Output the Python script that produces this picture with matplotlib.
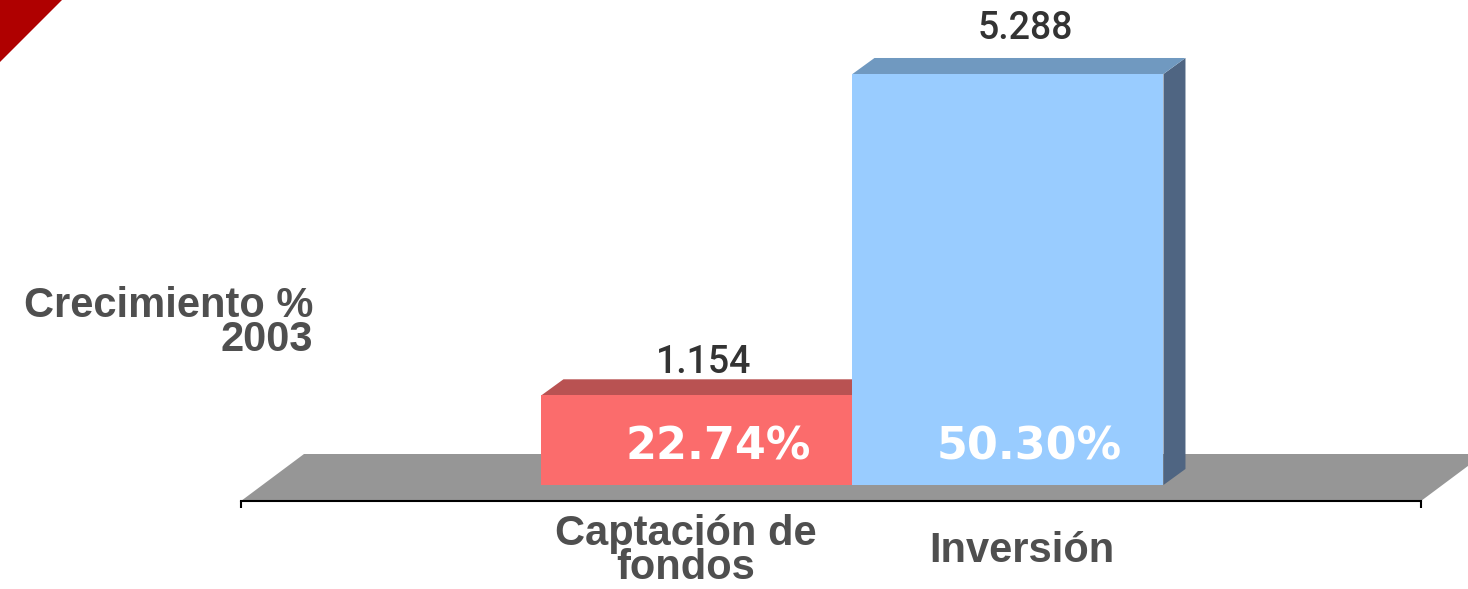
"""3D-style bar chart: Crecimiento % 2003."""

import matplotlib

matplotlib.use("Agg")
import matplotlib.pyplot as plt
from matplotlib.patches import Polygon

categories = ["Captación de\nfondos", "Inversión"]
values = [1.154, 5.288]
value_labels = ["1.154", "5.288"]
growth_labels = ["22.74%", "50.30%"]
side_title = "Crecimiento %\n2003"

W, H, DPI = 1468, 589, 100
front_colors = ["#FB6C6C", "#99CCFF"]
top_colors = ["#B95252", "#7099C0"]
side_colors = ["#8A3A3A", "#4F6582"]
floor_color = "#969696"
label_gray = "#4F4F4F"
value_gray = "#333333"
label_font = dict(fontsize=30, family="Liberation Sans", fontweight="bold",
                  color=label_gray, linespacing=0.78)

# small per-label nudges (pixels) to match the original layout
value_pad_px = [(7, 6), (17, 19)]
cat_dx_px = [-11, 14]

fig = plt.figure(figsize=(W / DPI, H / DPI), dpi=DPI)
ax = fig.add_axes([241 / W, 88 / H, 1180 / W, 501 / H])
xmin, xmax = -1.466, 2.328
ymin, ymax = -0.206, 6.24
ax.set_xlim(xmin, xmax)
ax.set_ylim(ymin, ymax)

px_x = (xmax - xmin) / 1180
px_y = (ymax - ymin) / 501

# floor
fdx, fdy = 63 * px_x, 47 * px_y
floor = Polygon(
    [(xmin, ymin), (xmax, ymin), (xmax + fdx, ymin + fdy), (xmin + fdx, ymin + fdy)],
    closed=True, facecolor=floor_color, edgecolor="none", zorder=1, clip_on=False,
)
ax.add_patch(floor)

# bars with depth
bdx, bdy = 22 * px_x, 16 * px_y
for i, v in enumerate(values):
    z = 2 + i
    x0, x1 = i - 0.5, i + 0.5
    side = Polygon([(x1, 0), (x1 + bdx, bdy), (x1 + bdx, v + bdy), (x1, v)],
                   facecolor=side_colors[i], edgecolor="none", zorder=z, clip_on=False)
    top = Polygon([(x0, v), (x1, v), (x1 + bdx, v + bdy), (x0 + bdx, v + bdy)],
                  facecolor=top_colors[i], edgecolor="none", zorder=z, clip_on=False)
    ax.add_patch(side)
    ax.add_patch(top)
    ax.bar(i, v, width=1.0, color=front_colors[i], zorder=z, clip_on=False)

    dx, dy = value_pad_px[i]
    ax.text(i + dx * px_x, v + bdy + dy * px_y, value_labels[i], ha="center", va="baseline",
            fontsize=27, family="Roboto", fontweight=500, color=value_gray, zorder=10)
    ax.text(i + 21 * px_x, 25 * px_y, growth_labels[i], ha="center", va="baseline",
            fontsize=32, family="DejaVu Sans", fontweight="bold", color="white", zorder=10)

# category labels below the axis line
for i, label in enumerate(categories):
    ax.text(i + cat_dx_px[i] * px_x, ymin - 50 * px_y, label, ha="center", va="center",
            multialignment="center", clip_on=False, **label_font)

# side title
fig.text(313 / W, 1 - 323 / H, side_title, ha="right", va="center",
         multialignment="right", **label_font)

# axis line with end ticks
for s in ["top", "left", "right"]:
    ax.spines[s].set_visible(False)
ax.spines["bottom"].set_linewidth(1.5)
ax.spines["bottom"].set_zorder(5)
ax.set_xticks([xmin, xmax])
ax.set_xticklabels(["", ""])
ax.set_yticks([])
ax.tick_params(axis="x", direction="out", length=5, width=1.5, color="black")
ax.patch.set_alpha(0)

# corner decoration
fig.patches.append(Polygon([(0, 1), (62 / W, 1), (0, 1 - 62 / H)], closed=True,
                           transform=fig.transFigure, facecolor="#AF0000",
                           edgecolor="none", figure=fig))

fig.savefig("out.png", dpi=DPI)
